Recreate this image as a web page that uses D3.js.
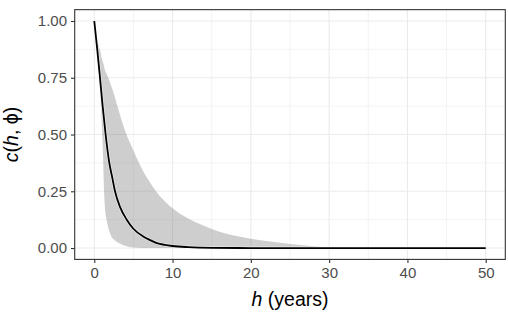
<!DOCTYPE html>
<html lang="en">
<head>
<meta charset="UTF-8">
<script src="https://d3js.org/d3.v7.min.js"></script>
<style>
    body { margin: 0; background: #fff; }
    svg { display: block; font-family: 'Liberation Sans', Arial, sans-serif; }
    .tick-label { fill: #4d4d4d; font-size: 15px; }
    .axis-title { fill: #000; font-size: 19.5px; }
</style>
</head>
<body>
<script>
// posterior mean of the correlation function
var hMean = [0, 0.38, 0.73, 1.07, 1.45, 1.92, 2.3, 2.65, 3.3, 4.15, 5, 6.3, 7, 8, 9, 10, 12, 15, 20, 30, 40, 50];
var cMean = [1, 0.875, 0.75, 0.625, 0.5, 0.375, 0.31, 0.25, 0.18, 0.125, 0.085, 0.05, 0.037, 0.022, 0.014, 0.009, 0.004, 0.001, 0, 0, 0, 0];

// credible band
var hBand = [0.2, 0.5, 0.75, 1, 1.1, 1.25, 1.4, 1.6, 1.9, 2.2, 2.5, 3, 3.7, 4, 5, 6, 7, 8, 10, 12, 14, 16, 18, 20, 22, 24, 26, 28, 30, 35, 40, 45, 50];
var cLower = [0.94, 0.82, 0.69, 0.52, 0.43, 0.25, 0.165, 0.12, 0.077, 0.05, 0.038, 0.024, 0.012, 0.009, 0.002, 0, 0, 0, 0, 0, 0, 0, 0, 0, 0, 0, 0, 0, 0, 0, 0, 0, 0];
var cUpper = [0.95, 0.90, 0.87, 0.83, 0.82, 0.80, 0.78, 0.765, 0.74, 0.71, 0.68, 0.62, 0.54, 0.51, 0.43, 0.355, 0.295, 0.245, 0.175, 0.13, 0.098, 0.072, 0.054, 0.041, 0.031, 0.022, 0.014, 0.008, 0.003, 0.0005, 0, 0, 0];

var xTicks = [0, 10, 20, 30, 40, 50];
var xMinor = [5, 15, 25, 35, 45];
var yTicks = [0, 0.25, 0.5, 0.75, 1];
var yMinor = [0.125, 0.375, 0.625, 0.875];

var W = 508, H = 314;
var svg = d3.select("body").append("svg")
    .attr("width", W)
    .attr("height", H);

var x = d3.scaleLinear().domain([-2.5, 52.5]).range([74.7, 505.3]);
var y = d3.scaleLinear().domain([-0.05, 1.05]).range([259.4, 9.65]);

var panel = svg.append("g");

// grid
panel.selectAll(".vminor").data(xMinor).enter().append("line")
    .attr("x1", d => x(d)).attr("x2", d => x(d))
    .attr("y1", y.range()[0]).attr("y2", y.range()[1])
    .attr("stroke", "#ebebeb").attr("stroke-width", 0.6);
panel.selectAll(".hminor").data(yMinor).enter().append("line")
    .attr("y1", d => y(d)).attr("y2", d => y(d))
    .attr("x1", x.range()[0]).attr("x2", x.range()[1])
    .attr("stroke", "#ebebeb").attr("stroke-width", 0.6);
panel.selectAll(".vmajor").data(xTicks).enter().append("line")
    .attr("x1", d => x(d)).attr("x2", d => x(d))
    .attr("y1", y.range()[0]).attr("y2", y.range()[1])
    .attr("stroke", "#ebebeb").attr("stroke-width", 1.1);
panel.selectAll(".hmajor").data(yTicks).enter().append("line")
    .attr("y1", d => y(d)).attr("y2", d => y(d))
    .attr("x1", x.range()[0]).attr("x2", x.range()[1])
    .attr("stroke", "#ebebeb").attr("stroke-width", 1.1);

// ribbon
var band = hBand.map((h, i) => ({h: h, lo: cLower[i], hi: cUpper[i]}));
var area = d3.area()
    .x(d => x(d.h))
    .y0(d => y(d.lo))
    .y1(d => y(d.hi))
    .curve(d3.curveMonotoneX);
panel.append("path")
    .datum(band)
    .attr("d", area)
    .attr("fill", "#7f7f80")
    .attr("fill-opacity", 0.38);

// mean line
var mean = hMean.map((h, i) => ({h: h, c: cMean[i]}));
var line = d3.line()
    .x(d => x(d.h))
    .y(d => y(d.c))
    .curve(d3.curveMonotoneX);
panel.append("path")
    .datum(mean)
    .attr("d", line)
    .attr("fill", "none")
    .attr("stroke", "#fff")
    .attr("stroke-opacity", 0.6)
    .attr("stroke-width", 3.2);
panel.append("path")
    .datum(mean)
    .attr("d", line)
    .attr("fill", "none")
    .attr("stroke", "#000")
    .attr("stroke-width", 1.8);

// panel border
svg.append("rect")
    .attr("x", x.range()[0]).attr("y", y.range()[1])
    .attr("width", x.range()[1] - x.range()[0])
    .attr("height", y.range()[0] - y.range()[1])
    .attr("fill", "none")
    .attr("stroke", "#333")
    .attr("stroke-width", 1.1);

// axes
var xAxis = svg.append("g")
    .attr("transform", "translate(0," + y.range()[0] + ")")
    .call(d3.axisBottom(x).tickValues(xTicks).tickSize(3.7).tickPadding(4).tickFormat(d3.format("d")));
var yAxis = svg.append("g")
    .attr("transform", "translate(" + x.range()[0] + ",0)")
    .call(d3.axisLeft(y).tickValues(yTicks).tickSize(3.7).tickPadding(4).tickFormat(d3.format(".2f")));
[xAxis, yAxis].forEach(function(g) {
    g.select(".domain").remove();
    g.selectAll(".tick line").attr("stroke", "#333").attr("stroke-width", 1.1);
    g.selectAll(".tick text").attr("class", "tick-label").attr("fill", "#4d4d4d")
        .style("font-size", "15px").style("font-family", "'Liberation Sans', Arial, sans-serif");
});

// titles
var cx = (x.range()[0] + x.range()[1]) / 2;
var xt = svg.append("text")
    .attr("class", "axis-title")
    .attr("x", cx).attr("y", 305.5)
    .attr("text-anchor", "middle");
xt.append("tspan").attr("font-style", "italic").text("h");
xt.append("tspan").text(" (years)");

var cy = (y.range()[0] + y.range()[1]) / 2;
var yt = svg.append("text")
    .attr("class", "axis-title")
    .attr("transform", "translate(18," + cy + ") rotate(-90)")
    .attr("text-anchor", "middle");
yt.append("tspan").attr("font-style", "italic").text("c");
yt.append("tspan").text("(");
yt.append("tspan").attr("font-style", "italic").text("h");
yt.append("tspan").text(", ϕ)");
</script>
</body>
</html>
